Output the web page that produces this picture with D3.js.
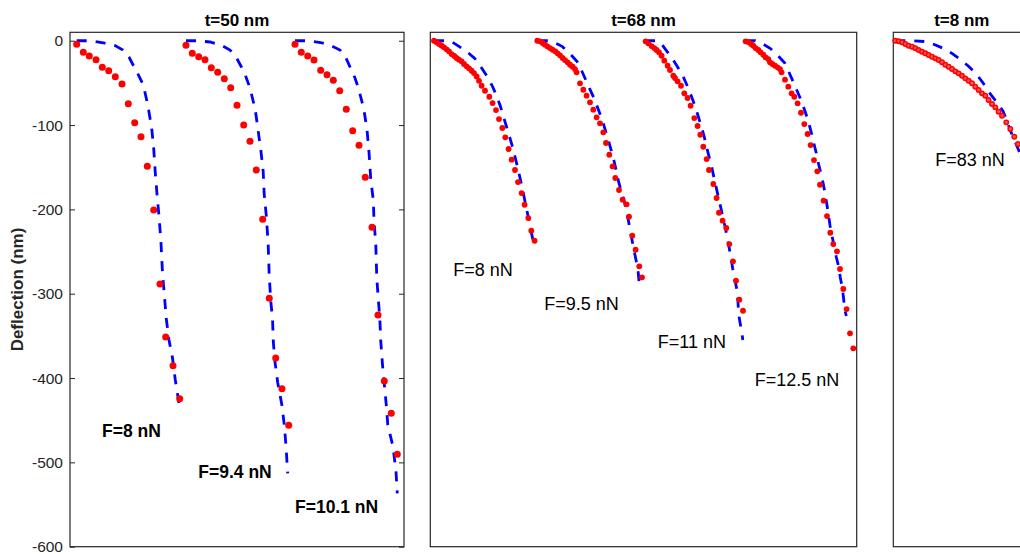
<!DOCTYPE html>
<html>
<head>
<meta charset="utf-8">
<script src="https://cdn.jsdelivr.net/npm/d3@7"></script>
<style>
  html, body { margin: 0; padding: 0; background: #fff; }
  svg { display: block; font-family: "Liberation Sans", Arial, sans-serif; }
</style>
</head>
<body>
<svg id="chart" width="1020" height="554"></svg>
<script>
// ── data: lateral position (arb. units) vs deflection (nm) ──

// t=50 nm
const t50_F8_x   = [0.67,1.33,1.93,2.6,3.23,3.87,4.53,5.2,5.83,6.47,7.1,7.73,8.37,9.0,9.57,10.3,10.97];
const t50_F8_y   = [-4.3,-13.8,-18.1,-22.5,-31.5,-35.6,-42.7,-51.3,-74.7,-97.2,-113.8,-148.9,-200.8,-288.5,-351.4,-385.4,-424.5];
const t50_F8_fx  = [0.67,2.0,3.33,4.5,5.3,5.9,6.4,6.9,7.33,7.78,8.17,8.37,8.52,8.7,8.92,9.1,9.25,9.45,9.62,9.9,10.25,10.53,10.88,10.95];
const t50_F8_fy  = [0,0,-2.4,-5.7,-11,-19.3,-30.8,-41.9,-52.5,-76.2,-103.9,-127.6,-155.3,-181.8,-210.6,-239.9,-275.5,-303.6,-328.8,-354.9,-376.3,-402.3,-428.4,-434.4];

const t50_F94_x  = [11.6,12.23,12.87,13.5,14.13,14.77,15.43,16.07,16.7,17.37,18.0,18.63,19.27,19.93,20.57,21.2,21.87];
const t50_F94_y  = [-5.5,-14.9,-19.0,-22.5,-32.0,-37.5,-45.1,-55.7,-76.6,-100.0,-119.1,-153.3,-211.8,-305.5,-376.3,-412.7,-456.1];
const t50_F94_fx = [11.6,12.7,14.0,15.1,16.0,16.6,17.13,17.6,18.0,18.53,18.78,19.1,19.32,19.42,19.65,19.82,19.92,20.08,20.25,20.33,20.5,20.77,21.17,21.43,21.6,21.77];
const t50_F94_fy = [0,0,-1.5,-5.1,-11.0,-19.3,-30.8,-43.0,-56.1,-82.2,-103.5,-131.6,-155.3,-181.8,-210.3,-242.3,-277.8,-309.5,-328.8,-356.9,-381.0,-405.3,-430.8,-455.7,-480.6,-513.0];

const t50_F101_x  = [22.5,23.13,23.77,24.4,25.07,25.7,26.33,26.97,27.63,28.27,28.9,29.53,30.2,30.8,31.43,32.13,32.73];
const t50_F101_y  = [-4.3,-13.8,-18.1,-22.9,-35.1,-40.3,-47.0,-59.3,-81.3,-106.7,-124.0,-162.0,-221.3,-325.3,-403.5,-441.8,-490.4];
const t50_F101_fx = [22.5,23.6,25.05,26.1,27.0,27.6,28.08,28.5,28.87,29.38,29.7,29.9,30.08,30.33,30.4,30.58,30.68,30.85,30.98,31.08,31.25,31.62,31.78,32.3,32.6,32.73];
const t50_F101_fy = [0,0,-2.1,-5.7,-11.0,-20.5,-33.3,-44.2,-57.3,-81.0,-105.3,-132.0,-165.2,-188.9,-212.6,-242.3,-281.7,-309.5,-328.8,-356.9,-384.5,-430.8,-455.7,-481.4,-511.1,-536.7];

// t=68 nm
const t68_F8_x  = [0.37,0.63,0.87,1.13,1.37,1.63,1.87,2.13,2.4,2.63,2.87,3.13,3.37,3.63,3.87,4.13,4.37,4.63,4.87,5.13,5.47,5.9,6.23,6.57,6.87,7.2,7.5,7.83,8.13,8.47,8.77,9.13,9.43,9.8,10.1,10.43];
const t68_F8_y  = [0,-1.9,-3.9,-5.9,-7.8,-10.2,-12.6,-15.8,-18.1,-20.5,-22.5,-24.4,-27.6,-30.4,-32.7,-35.6,-38.3,-42.3,-47.5,-53.4,-59.3,-66.4,-73.9,-82.2,-92.9,-103.5,-114.6,-128.4,-141.1,-153.3,-167.6,-180.6,-194.5,-210.3,-225.3,-237.2];
const t68_F8_fx = [0.37,1.5,2.1,2.9,3.7,4.45,5.0,5.7,6.2,6.6,7.0,7.3,7.6,7.9,8.2,8.45,8.7,8.95,9.2,9.4,9.65,9.9,10.1,10.33];
const t68_F8_fy = [0,0,-0.9,-6.9,-13.4,-21.1,-30.0,-42.5,-53.7,-64.4,-77.4,-89.3,-101.1,-113.0,-124.9,-136.7,-148.6,-161.6,-174.6,-186.5,-200.8,-215.0,-226.8,-240.2];

const t68_F95_x  = [10.7,10.97,11.23,11.47,11.7,11.97,12.23,12.5,12.73,12.97,13.23,13.47,13.73,13.97,14.23,14.47,14.63,14.97,15.3,15.63,15.97,16.3,16.63,16.97,17.3,17.57,17.9,18.23,18.5,18.87,19.23,19.63,19.87,20.2,20.53,20.9,21.17];
const t68_F95_y  = [0,-0.7,-2.7,-4.7,-6.6,-8.7,-10.7,-12.6,-14.9,-17.3,-20.5,-22.9,-25.6,-28.5,-30.8,-33.6,-37.5,-50.5,-58.1,-65.2,-73.0,-81.8,-90.8,-97.9,-108.6,-121.3,-135.2,-149.0,-162.8,-177.0,-188.5,-194.0,-208.7,-231.2,-247.8,-267.5,-280.6];
const t68_F95_fx = [10.75,11.8,12.4,13.17,13.9,14.68,15.15,15.55,16.0,16.42,16.8,17.2,17.5,17.82,18.1,18.37,18.6,18.83,19.1,19.4,19.6,19.82,20.02,20.22,20.42,20.62,20.8,20.95];
const t68_F95_fy = [0,0,-2.1,-6.6,-14.6,-24.7,-35.9,-46.6,-58.5,-69.4,-81.6,-94.0,-105.9,-118.6,-130.2,-142.3,-154.5,-167.2,-178.8,-190.4,-202.0,-213.9,-226.8,-239.3,-251.2,-263.0,-275.5,-295.6];

const t68_F11_x  = [21.53,21.8,22.13,22.4,22.63,22.87,23.13,23.4,23.73,23.97,24.3,24.47,24.73,25.07,25.4,25.73,26.03,26.4,26.73,27.0,27.3,27.63,27.87,28.3,28.63,28.87,29.23,29.6,29.9,30.27,30.57,30.9,31.27];
const t68_F11_y  = [-0.7,-3.1,-6.3,-8.7,-11.0,-13.8,-17.8,-23.7,-29.6,-34.7,-41.5,-44.2,-48.1,-53.4,-62.4,-67.9,-77.1,-91.7,-101.1,-111.5,-125.7,-140.3,-153.3,-169.9,-186.5,-204.0,-213.4,-222.1,-241.1,-261.6,-284.6,-307.1,-320.2];
const t68_F11_fx = [21.47,22.5,23.0,23.72,24.3,24.82,25.3,25.7,26.1,26.47,26.8,27.13,27.4,27.63,27.9,28.17,28.4,28.63,28.85,29.08,29.3,29.52,29.7,29.88,30.07,30.25,30.47,30.68,30.77,30.83,31.0,31.18,31.25];
const t68_F11_fy = [0,0,-2.1,-13.4,-22.9,-33.0,-43.0,-53.7,-65.6,-77.4,-89.9,-102.7,-114.2,-126.4,-138.5,-151.3,-164.0,-175.9,-187.7,-199.6,-211.4,-222.7,-234.0,-245.0,-257.7,-270.7,-283.8,-296.8,-309.8,-324.1,-335.9,-347.8,-354.9];

const t68_F125_x  = [31.53,31.8,32.07,32.3,32.53,32.8,33.03,33.3,33.53,33.8,33.97,34.2,34.47,34.73,34.97,35.13,35.47,35.8,36.13,36.4,36.73,37.07,37.4,37.73,38.03,38.37,38.7,38.97,39.33,39.67,40.0,40.3,40.67,40.97,41.3,41.63,41.97,42.3];
const t68_F125_y  = [-0.7,-1.5,-3.9,-5.9,-8.7,-11.0,-13.8,-16.6,-19.7,-21.7,-25.6,-27.6,-29.6,-31.5,-33.6,-37.5,-46.2,-54.5,-62.4,-66.4,-74.2,-85.4,-98.8,-110.6,-123.7,-141.5,-154.9,-170.8,-189.7,-207.9,-227.7,-241.1,-249.7,-270.7,-294.4,-318.2,-347.0,-364.8];
const t68_F125_fx = [31.53,32.5,33.1,33.98,34.7,35.45,35.9,36.35,36.75,37.15,37.5,37.83,38.1,38.33,38.6,38.83,39.08,39.3,39.5,39.67,39.83,39.98,40.18,40.38,40.6,40.85,41.0,41.2,41.33,41.43,41.6];
const t68_F125_fy = [0,0,-2.7,-9.0,-17.0,-26.4,-38.3,-50.2,-61.4,-72.7,-84.5,-96.8,-108.9,-120.5,-133.2,-146.3,-158.1,-169.9,-183.0,-195.2,-207.3,-219.7,-231.6,-244.0,-256.5,-268.7,-280.8,-292.9,-305.7,-318.2,-326.4];

// t=8 nm
const t8_F83_x  = [0.2,0.53,0.87,1.2,1.53,1.87,2.2,2.53,2.87,3.2,3.53,3.87,4.2,4.53,4.87,5.2,5.53,5.87,6.2,6.53,6.87,7.2,7.53,7.87,8.2,8.53,8.87,9.2,9.53,9.87,10.2,10.53,10.87,11.3,11.7,12.1,12.47];
const t8_F83_y  = [0,-0.7,-1.9,-3.9,-5.9,-7.1,-9.0,-11.0,-13.0,-14.9,-17.0,-19.0,-20.9,-22.9,-25.6,-28.5,-30.8,-33.6,-36.3,-38.7,-41.5,-44.6,-47.4,-50.5,-54.5,-58.5,-62.4,-65.2,-70.3,-75.1,-79.0,-84.2,-88.9,-96.8,-104.7,-113.8,-122.5];
const t8_F83_fx = [0.2,1.7,3.1,4.1,5.03,5.9,6.78,7.55,8.3,8.95,9.53,10.3,10.98,11.35,11.68,12.03,12.42,12.7,12.9];
const t8_F83_fy = [0,0,-0.9,-4.5,-9.2,-15.2,-22.9,-30.6,-39.5,-49.6,-60.5,-72.1,-83.6,-94.6,-105.9,-115.4,-126.6,-134.4,-139.1];

const yTicks = [0, -100, -200, -300, -400, -500, -600];
const panelTitles = ['t=50 nm', 't=68 nm', 't=8 nm'];
const panelXMax = [33.4, 42.64, 13.7];

const panels = [
  { title: panelTitles[0], xMax: panelXMax[0], left: 70, right: 404, ticks: true, bold: true, dot: 'solid', r: 3.5,
    curves: [
      { x: t50_F8_x,   y: t50_F8_y,   fx: t50_F8_fx,   fy: t50_F8_fy,   label: 'F=8 nN',    lx: 3.2,  ly: -470.3 },
      { x: t50_F94_x,  y: t50_F94_y,  fx: t50_F94_fx,  fy: t50_F94_fy,  label: 'F=9.4 nN',  lx: 12.83, ly: -518.9 },
      { x: t50_F101_x, y: t50_F101_y, fx: t50_F101_fx, fy: t50_F101_fy, label: 'F=10.1 nN', lx: 22.5, ly: -560.5 },
    ] },
  { title: panelTitles[1], xMax: panelXMax[1], left: 430.3, right: 856.7, ticks: false, bold: false, dot: 'solid', r: 2.9,
    curves: [
      { x: t68_F8_x,   y: t68_F8_y,   fx: t68_F8_fx,   fy: t68_F8_fy,   label: 'F=8 nN',    lx: 2.3,  ly: -279.0 },
      { x: t68_F95_x,  y: t68_F95_y,  fx: t68_F95_fx,  fy: t68_F95_fy,  label: 'F=9.5 nN',  lx: 11.4, ly: -319.4 },
      { x: t68_F11_x,  y: t68_F11_y,  fx: t68_F11_fx,  fy: t68_F11_fy,  label: 'F=11 nN',   lx: 22.75, ly: -364.0 },
      { x: t68_F125_x, y: t68_F125_y, fx: t68_F125_fx, fy: t68_F125_fy, label: 'F=12.5 nN', lx: 32.45, ly: -409.5 },
    ] },
  { title: panelTitles[2], xMax: panelXMax[2], left: 893.3, right: 1030.3, ticks: false, bold: false, dot: 'ring', r: 2.2,
    curves: [
      { x: t8_F83_x, y: t8_F83_y, fx: t8_F83_fx, fy: t8_F83_fy, label: 'F=83 nN', lx: 4.2, ly: -148.6 },
    ] },
];

const plotTop = 32.3, plotBottom = 546.7;
const svg = d3.select('#chart');
const y = d3.scaleLinear().domain([-600, 10]).range([plotBottom, plotTop]);
const axisColor = '#262626';

panels.forEach(p => {
  const x = d3.scaleLinear().domain([0, p.xMax]).range([p.left, p.right]);
  const g = svg.append('g');

  // box
  g.append('rect')
    .attr('x', p.left).attr('y', plotTop)
    .attr('width', p.right - p.left).attr('height', plotBottom - plotTop)
    .attr('fill', 'none').attr('stroke', axisColor).attr('stroke-width', 1.2);

  if (p.ticks) {
    const yl = g.append('g').attr('transform', `translate(${p.left},0)`)
      .call(d3.axisLeft(y).tickValues(yTicks).tickSize(-5).tickPadding(7).tickFormat(d => String(d)));
    yl.select('.domain').remove();
    yl.selectAll('line').attr('stroke', axisColor);
    yl.selectAll('text').attr('fill', axisColor).style('font-size', '15.5px')
      .style('font-family', '"Liberation Sans", Arial, sans-serif');
    const yr = g.append('g').attr('transform', `translate(${p.right},0)`)
      .call(d3.axisRight(y).tickValues(yTicks).tickSize(-5).tickFormat(''));
    yr.select('.domain').remove();
    yr.selectAll('line').attr('stroke', axisColor);
  }

  // title
  g.append('text')
    .attr('x', (p.left + p.right) / 2).attr('y', 26)
    .attr('text-anchor', 'middle')
    .style('font-size', '17px').style('font-weight', 'bold')
    .attr('fill', '#000')
    .text(p.title);

  const line = d3.line().x(d => x(d[0])).y(d => y(d[1]));

  p.curves.forEach(c => {
    // model fit (dashed)
    g.append('path')
      .datum(c.fx.map((v, k) => [v, c.fy[k]]))
      .attr('d', line)
      .attr('fill', 'none')
      .attr('stroke', '#0000ff')
      .attr('stroke-width', 2.8)
      .attr('stroke-dasharray', '10 9');

    // measured points
    g.selectAll(null)
      .data(c.x.map((v, k) => [v, c.y[k]]))
      .join('circle')
      .attr('cx', d => x(d[0]))
      .attr('cy', d => y(d[1]))
      .attr('r', p.r)
      .attr('fill', p.dot === 'ring' ? '#ff5a5a' : '#ff0000')
      .attr('stroke', p.dot === 'ring' ? '#ff0000' : 'none')
      .attr('stroke-width', p.dot === 'ring' ? 1.5 : 0);

    g.append('text')
      .attr('x', x(c.lx)).attr('y', y(c.ly))
      .style('font-size', p.bold ? '17.5px' : '18px')
      .style('font-weight', p.bold ? 'bold' : 'normal')
      .attr('fill', '#000')
      .text(c.label);
  });
});

// y-axis label
svg.append('text')
  .attr('transform', `translate(23,${(plotTop + plotBottom) / 2}) rotate(-90)`)
  .attr('text-anchor', 'middle')
  .style('font-size', '17px').style('font-weight', 'bold')
  .attr('fill', axisColor)
  .text('Deflection (nm)');
</script>
</body>
</html>
